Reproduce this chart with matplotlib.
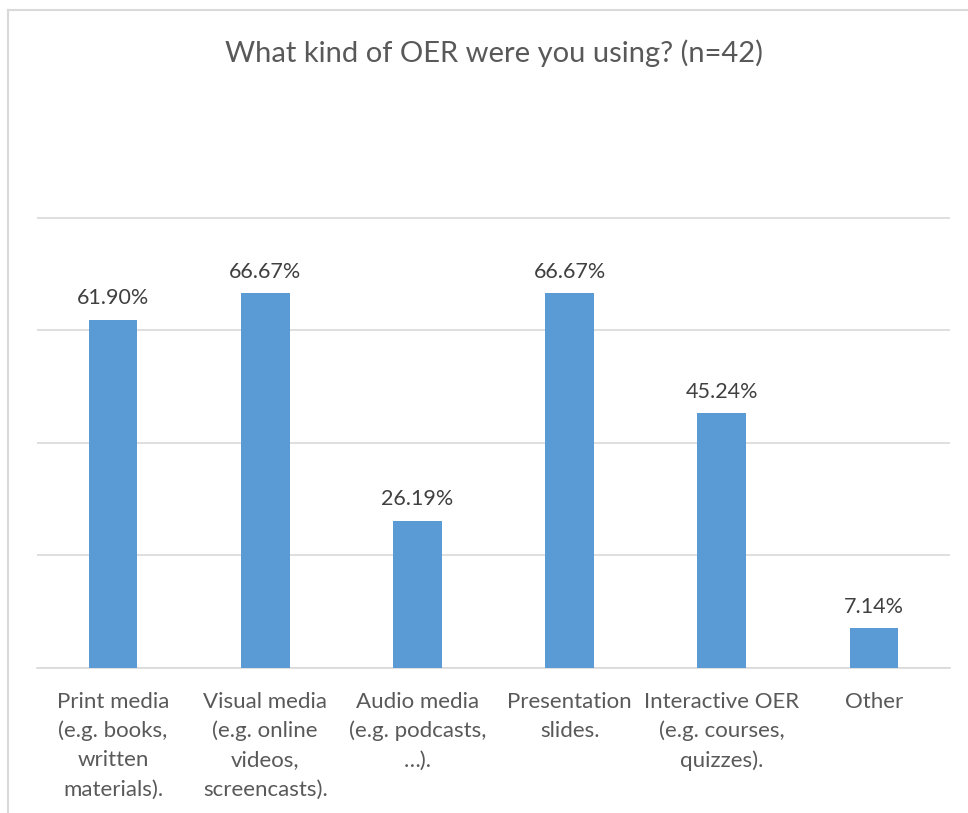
import matplotlib.pyplot as plt
from matplotlib.lines import Line2D

categories = ["Print media\n(e.g. books,\nwritten\nmaterials).",
              "Visual media\n(e.g. online\nvideos,\nscreencasts).",
              "Audio media\n(e.g. podcasts,\n…).",
              "Presentation\nslides.",
              "Interactive OER\n(e.g. courses,\nquizzes).",
              "Other"]
values = [61.90, 66.67, 26.19, 66.67, 45.24, 7.14]
title = "What kind of OER were you using? (n=42)"

txt = "#595959"
plt.rcParams['font.family'] = ['Lato', 'DejaVu Sans']

fig = plt.figure(figsize=(9.68, 8.13), dpi=100)
ax = fig.add_axes([37/968, (813-668)/813, 913/968, 456/813])

x = list(range(len(values)))
bars = ax.bar(x, values, width=0.32, color="#5B9BD5", zorder=3)
for b, v in zip(bars, values):
    ax.annotate(f"{v:.2f}%", (b.get_x() + b.get_width()/2, v),
                xytext=(0, 8), textcoords="offset points",
                ha="center", va="bottom", fontsize=15.5, color="#404040")

ax.set_xlim(-0.5, len(values) - 0.5)
ax.set_ylim(0, 81)
ax.set_yticks([0, 20, 40, 60, 80])
ax.yaxis.grid(True, color="#D9D9D9", linewidth=1.2, zorder=0)
ax.tick_params(axis="y", left=False, labelleft=False)
ax.set_xticks(x)
ax.set_xticklabels(categories, fontsize=16, color=txt, linespacing=1.56)
ax.tick_params(axis="x", length=0, pad=17)
for s in ["top", "right", "left"]:
    ax.spines[s].set_visible(False)
ax.spines["bottom"].set_color("#D9D9D9")
ax.spines["bottom"].set_linewidth(1.2)

fig.text(494/968, 1 - 53/813, title, ha="center", va="center", fontsize=21, color=txt)

# chart frame (top and left edges visible)
fig.add_artist(Line2D([8/968, 1], [1 - 10/813, 1 - 10/813], color="#D9D9D9", lw=1.5))
fig.add_artist(Line2D([8/968, 8/968], [0, 1 - 10/813], color="#D9D9D9", lw=1.5))

fig.savefig("out.png", dpi=100)
